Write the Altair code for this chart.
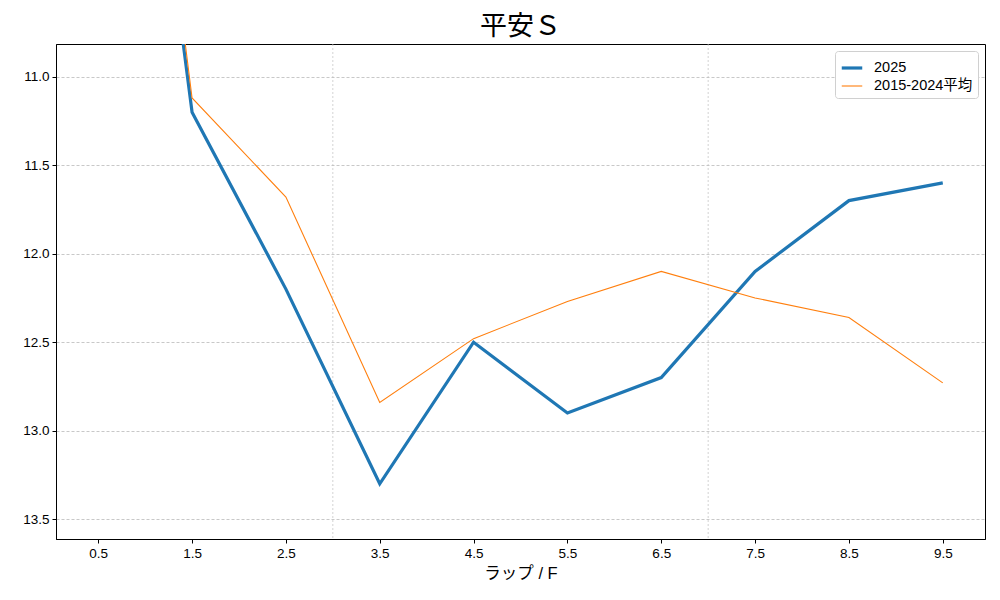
import altair as alt
import pandas as pd

laps = [0.5, 1.5, 2.5, 3.5, 4.5, 5.5, 6.5, 7.5, 8.5, 9.5]
lap_2025 = [7.1, 11.2, 12.2, 13.3, 12.5, 12.9, 12.7, 12.1, 11.7, 11.6]
lap_avg = [6.9, 11.12, 11.68, 12.84, 12.48, 12.27, 12.1, 12.25, 12.36, 12.73]
series_names = ["2025", "2015-2024平均"]
y_ticks = [11.0, 11.5, 12.0, 12.5, 13.0, 13.5]
v_lines = [3, 7]

FONT = "Liberation Sans, Noto Sans CJK JP"
CJK = "Noto Sans CJK JP"

df = pd.concat([
    pd.DataFrame({"lap": laps, "time": lap_2025, "series": series_names[0]}),
    pd.DataFrame({"lap": laps, "time": lap_avg, "series": series_names[1]}),
])

x_scale = alt.Scale(domain=[0.05, 9.95], nice=False, zero=False)
y_scale = alt.Scale(domain=[10.815, 13.612], reverse=True, nice=False, zero=False)

lines = (
    alt.Chart(df)
    .mark_line(clip=True)
    .encode(
        x=alt.X("lap:Q", scale=x_scale, title="ラップ / F",
                axis=alt.Axis(values=laps, format=".1f", grid=False)),
        y=alt.Y("time:Q", scale=y_scale, title=None,
                axis=alt.Axis(values=y_ticks, format=".1f", grid=True,
                              gridDash=[3, 2], gridColor="#b0b0b0", gridWidth=0.7)),
        color=alt.Color("series:N", title=None,
                        scale=alt.Scale(domain=series_names, range=["#1f77b4", "#ff7f0e"]),
                        legend=alt.Legend(orient="top-right", symbolType="stroke",
                                          labelFont=FONT, labelFontSize=14.5,
                                          labelColor="#000", symbolSize=420,
                                          strokeColor="#d0d0d0", fillColor="white",
                                          padding=5, cornerRadius=3, offset=7,
                                          rowPadding=0, labelOffset=10)),
        strokeWidth=alt.StrokeWidth("series:N", title=None,
                                    scale=alt.Scale(domain=series_names, range=[3.2, 1.1]),
                                    legend=alt.Legend(orient="top-right", symbolType="stroke")),
        detail="series:N",
    )
)

vrules = (
    alt.Chart(pd.DataFrame({"x": v_lines}))
    .mark_rule(strokeDash=[2, 2], color="#c0c0c0", strokeWidth=0.7)
    .encode(x=alt.X("x:Q", scale=x_scale))
)

chart = (
    alt.layer(vrules, lines)
    .properties(
        width=929, height=495,
        title=alt.Title("平安Ｓ", font=CJK, fontSize=27, fontWeight="normal",
                        color="#000", offset=3),
        autosize=alt.AutoSizeParams(type="none"),
        padding={"left": 48, "top": 36, "right": 5, "bottom": 45},
    )
    .configure_view(stroke="black", strokeWidth=1)
    .configure_axis(labelFont=FONT, labelFontSize=13.5, labelColor="#000",
                    titleFont=FONT, titleFontSize=16.5, titleFontWeight="normal",
                    titleColor="#000", domainColor="black", tickColor="black",
                    tickSize=4, labelPadding=3, titlePadding=6)
)

chart.save("out.html", embed_options={"renderer": "svg", "actions": False})
